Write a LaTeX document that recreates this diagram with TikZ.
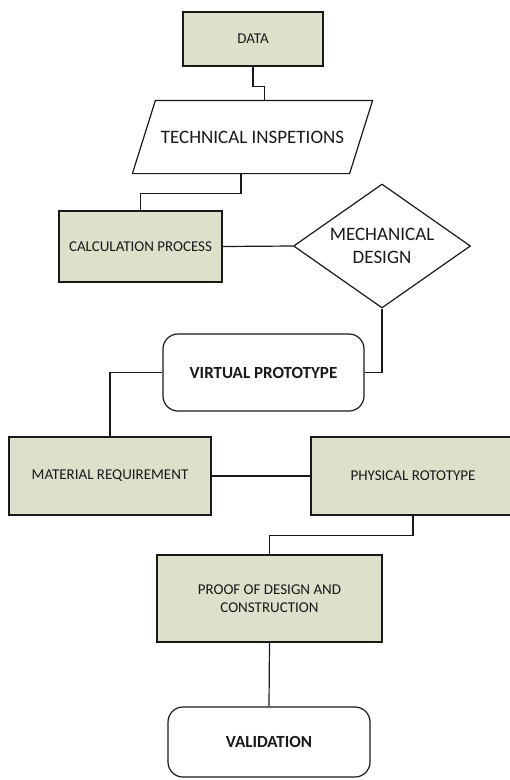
\documentclass[tikz,border=0pt]{standalone}
\usepackage{fontspec}
\setmainfont{Carlito}
\usetikzlibrary{shapes.geometric}
\definecolor{boxfill}{RGB}{221,224,203}

\begin{document}
\begin{tikzpicture}[x=10pt,y=10pt,line width=1.2pt,draw=black!90]
            \tikzstyle{every node}+=[inner sep=0pt,align=center,text=black!90]
            \tikzstyle{greybox}=[draw,fill=boxfill,rectangle,font=\fontsize{15}{18}\selectfont]
            \tikzstyle{roundbox}=[draw,fill=white,rectangle,rounded corners=15pt,font=\bfseries\fontsize{17}{20}\selectfont]
            \tikzstyle{bigtext}=[font=\fontsize{19}{23}\selectfont]
            \useasboundingbox (0,0) rectangle (51,-78);
            \clip (0,0) rectangle (51,-78);
            \node [greybox,minimum width=140pt,minimum height=54pt] (data) at (25.3,-3.9) {DATA};
            \node [minimum width=216pt,minimum height=72pt,bigtext] (insp) at (25.25,-13.7) {TECHNICAL INSPETIONS};
            \draw ([xshift=-11.5pt]insp.south west) -- ([xshift=11.5pt]insp.north west) -- ([xshift=11.5pt]insp.north east) -- ([xshift=-11.5pt]insp.south east) -- cycle;
            \node [greybox,minimum width=163pt,minimum height=71pt] (calc) at (14.05,-24.65) {CALCULATION PROCESS};
            \node [draw,diamond,shape aspect=1.43,minimum width=177pt,minimum height=124pt,bigtext] (mech) at (38.2,-24.6) {MECHANICAL\\DESIGN};
            \node [roundbox,minimum width=201pt,minimum height=77pt] (virt) at (26.35,-37.25) {VIRTUAL PROTOTYPE};
            \node [greybox,minimum width=202pt,minimum height=78pt] (mat) at (11,-47.6) {MATERIAL REQUIREMENT};
            \node [greybox,minimum width=204pt,minimum height=78pt] (phys) at (41.3,-47.6) {PHYSICAL ROTOTYPE};
            \node [greybox,minimum width=225pt,minimum height=87pt] (proof) at (26.95,-59.85) {PROOF OF DESIGN AND\\CONSTRUCTION};
            \node [roundbox,minimum width=202pt,minimum height=70pt] (valid) at (26.9,-74.2) {VALIDATION};
            \draw (data.south) -- ++(0,-2) -| ([xshift=12pt]insp.north);
            \draw ([xshift=-11.5pt]insp.south) -- ++(0,-2) -| (calc.north);
            \draw (calc.east) -- (mech.west);
            \draw (mech.south) |- (virt.east);
            \draw (virt.west) -| (mat.north);
            \draw (mat.east) -- (phys.west);
            \draw (phys.south) -- ++(0,-2) -| (proof.north);
            \draw (proof.south) -- (valid.north);
        \end{tikzpicture}
\end{document}
